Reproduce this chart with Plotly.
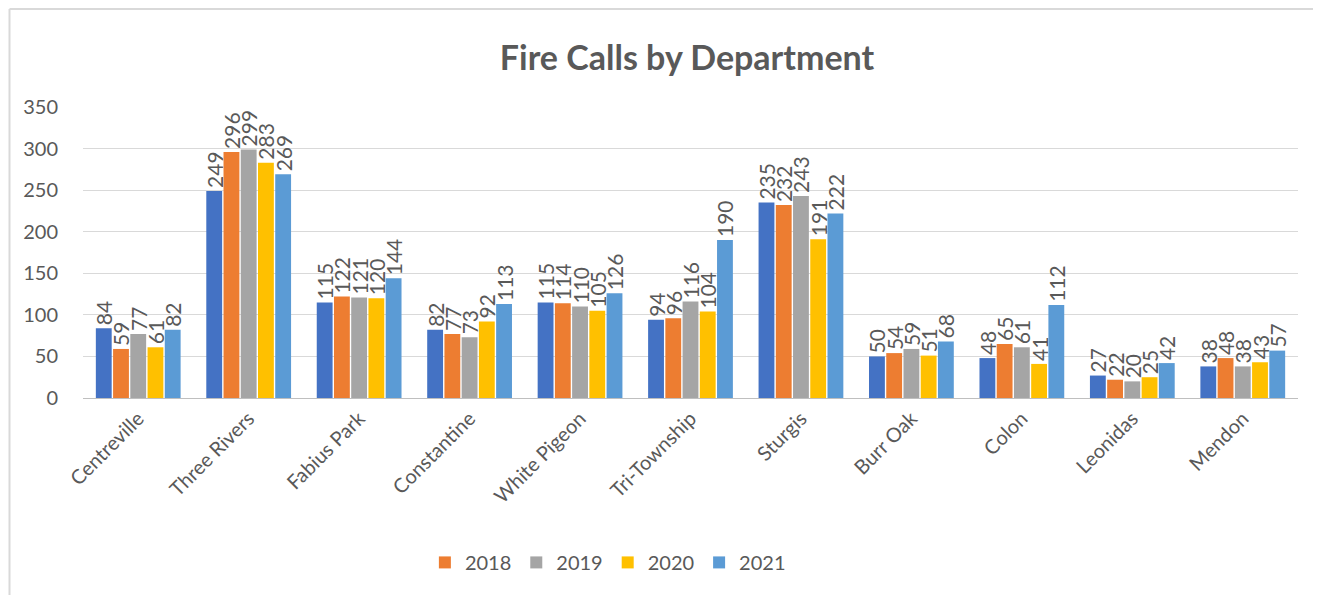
import plotly.graph_objects as go

departments = ['Centreville', 'Three Rivers', 'Fabius Park', 'Constantine', 'White Pigeon',
               'Tri-Township', 'Sturgis', 'Burr Oak', 'Colon', 'Leonidas', 'Mendon']

calls_2017 = [84, 249, 115, 82, 115, 94, 235, 50, 48, 27, 38]
calls_2018 = [59, 296, 122, 77, 114, 96, 232, 54, 65, 22, 48]
calls_2019 = [77, 299, 121, 73, 110, 116, 243, 59, 61, 20, 38]
calls_2020 = [61, 283, 120, 92, 105, 104, 191, 51, 41, 25, 43]
calls_2021 = [82, 269, 144, 113, 126, 190, 222, 68, 112, 42, 57]

series = [
    ('2017', calls_2017, '#4472C4', False),
    ('2018', calls_2018, '#ED7D31', True),
    ('2019', calls_2019, '#A5A5A5', True),
    ('2020', calls_2020, '#FFC000', True),
    ('2021', calls_2021, '#5B9BD5', True),
]

FONT = 'Lato'
GRAY = '#595959'

fig = go.Figure()
for name, vals, color, show in series:
    fig.add_trace(go.Bar(
        name=name, x=departments, y=vals,
        marker=dict(color=color, line=dict(width=0)),
        text=vals, textposition='outside', textangle=-90,
        constraintext='none', cliponaxis=False,
        textfont=dict(family=FONT, size=21, color=GRAY),
        showlegend=show,
    ))

# chart frame: only the top and left edges show in the reference
border = dict(color='#D9D9D9', width=2)
frame = [
    dict(type='line', xref='paper', yref='paper', x0=-0.0605, x1=1.1, y0=1.3365, y1=1.3365, line=border),
    dict(type='line', xref='paper', yref='paper', x0=-0.0605, x1=-0.0605, y0=-0.8, y1=1.3365, line=border),
]

# page body adds an 8px margin; figure is sized to fit inside the window
fig.update_layout(
    width=1305, height=587,
    paper_bgcolor='white', plot_bgcolor='white',
    margin=dict(l=75, r=15, t=99, b=197),
    barmode='group', bargap=0.22, bargroupgap=0.08,
    title=dict(text='<b>Fire Calls by Department</b>', x=0.5203, xanchor='center',
               y=0.9148, yanchor='middle',
               font=dict(family=FONT, size=34, color=GRAY)),
    font=dict(family=FONT, color=GRAY),
    legend=dict(orientation='h', x=0.432, xanchor='center', y=-0.565, yanchor='middle',
                font=dict(family=FONT, size=20, color=GRAY), traceorder='normal'),
    xaxis=dict(tickangle=-45, tickfont=dict(family=FONT, size=20, color=GRAY),
               showline=True, linecolor='#BFBFBF', linewidth=1, ticks=''),
    yaxis=dict(range=[0, 350], dtick=50, tickfont=dict(family=FONT, size=20, color=GRAY),
               gridcolor='#D9D9D9', gridwidth=1, zeroline=False, ticks='outside',
               ticklen=20, tickcolor='white'),
    shapes=frame,
)

fig.write_html('out.html')
